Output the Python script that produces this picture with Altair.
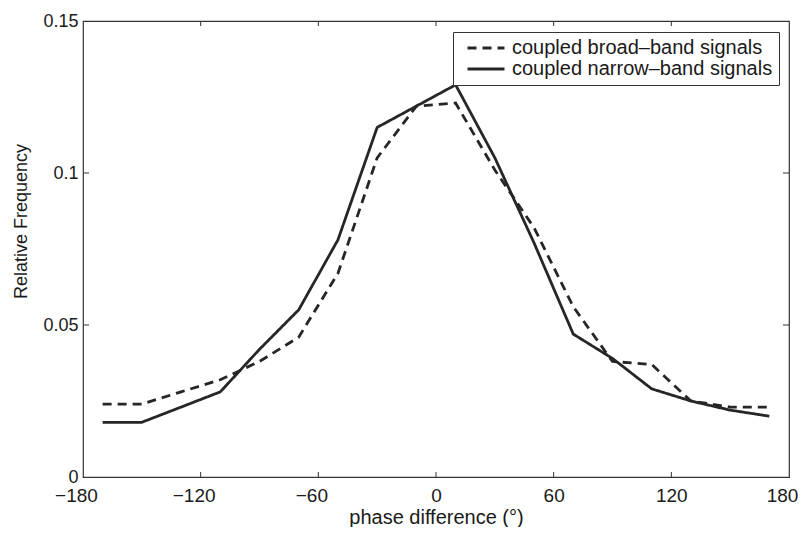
import altair as alt
import pandas as pd

# ---- data ----
phase = [-170, -150, -130, -110, -90, -70, -50, -30, -10, 10, 30, 50, 70, 90, 110, 130, 150, 170]
broad_band = [0.024, 0.024, 0.028, 0.032, 0.038, 0.046, 0.067, 0.105, 0.122, 0.123,
              0.101, 0.082, 0.056, 0.038, 0.037, 0.025, 0.023, 0.023]
narrow_band = [0.018, 0.018, 0.023, 0.028, 0.042, 0.055, 0.078, 0.115, 0.122, 0.129,
               0.105, 0.077, 0.047, 0.039, 0.029, 0.025, 0.022, 0.020]
series_names = ["coupled broad\u2013band signals", "coupled narrow\u2013band signals"]
x_tick_values = [-180, -120, -60, 0, 60, 120, 180]
y_tick_values = [0, 0.05, 0.1, 0.15]
x_inner_ticks = [-120, -60, 0, 60, 120]
y_inner_ticks = [0.05, 0.1]

FONT = "Liberation Sans, Arial, Helvetica, sans-serif"
INK = "#262626"
W, H = 706, 456

rows = []
for name, vals in zip(series_names, [broad_band, narrow_band]):
    for p, v in zip(phase, vals):
        rows.append({"phase": p, "value": v, "series": name})
df = pd.DataFrame(rows)

x_scale = alt.Scale(domain=[-180, 180], nice=False, zero=False)
y_scale = alt.Scale(domain=[0, 0.15], nice=False, zero=False)

x_axis = alt.Axis(values=x_tick_values, format="d", title="phase difference (\u00b0)",
                  domain=False, ticks=False, grid=False, labelFlush=False, labelOverlap=False,
                  labelFontSize=19, labelFont=FONT, labelColor="#1a1a1a", labelPadding=9,
                  labelOffset={"condition": {"test": "datum.value < 0 || datum.value == 180",
                                             "value": -7}, "value": 0},
                  titleFontSize=20, titleFont=FONT, titleFontWeight="normal",
                  titleColor="#1a1a1a", titlePadding=2)
y_axis = alt.Axis(values=y_tick_values, format=".2~f", title="Relative Frequency",
                  domain=False, ticks=False, grid=False, labelFlush=False, labelOverlap=False,
                  labelFontSize=18, labelFont=FONT, labelColor="#1a1a1a", labelPadding=5,
                  titleFontSize=18, titleFont=FONT, titleFontWeight="normal",
                  titleColor="#1a1a1a", titlePadding=12, titleY=200)

legend = alt.Legend(orient="none", legendX=370, legendY=11, title=None,
                    strokeColor="#333", fillColor="white", padding=6,
                    labelFontSize=20, labelFont=FONT, labelColor="#1a1a1a",
                    labelLimit=500, symbolType="M-3.7,0H3.7", symbolSize=100,
                    symbolStrokeWidth=3, symbolOffset=17, labelOffset=16, rowPadding=1)

x_enc = alt.X("phase:Q", scale=x_scale, axis=x_axis)
y_enc = alt.Y("value:Q", scale=y_scale, axis=y_axis)

lines = alt.Chart(df).mark_line(strokeWidth=2.8, strokeJoin="miter").encode(
    x=x_enc,
    y=y_enc,
    color=alt.Color("series:N", scale=alt.Scale(domain=series_names, range=[INK, INK]),
                    legend=legend),
    strokeDash=alt.StrokeDash("series:N", scale=alt.Scale(domain=series_names,
                                                          range=[[9, 6], [1, 0]]),
                              legend=legend),
)

xt = pd.DataFrame({"phase": x_inner_ticks})
yt = pd.DataFrame({"value": y_inner_ticks})

x_ticks_bottom = alt.Chart(xt).mark_rule(color="#333", strokeWidth=1).encode(
    x=x_enc, y=alt.value(H), y2=alt.value(H - 5))
x_ticks_top = alt.Chart(xt).mark_rule(color="#333", strokeWidth=1).encode(
    x=x_enc, y=alt.value(0), y2=alt.value(5))
y_ticks_left = alt.Chart(yt).mark_rule(color="#333", strokeWidth=1).encode(
    y=y_enc, x=alt.value(0), x2=alt.value(6))
y_ticks_right = alt.Chart(yt).mark_rule(color="#333", strokeWidth=1).encode(
    y=y_enc, x=alt.value(W), x2=alt.value(W - 6))

chart = alt.layer(x_ticks_bottom, x_ticks_top, y_ticks_left, y_ticks_right, lines).properties(
    width=W, height=H,
    padding={"left": 75, "top": 13, "right": 9, "bottom": 50},
    autosize=alt.AutoSizeParams(type="none"),
    background="white",
).configure_view(stroke="#333", strokeWidth=1.2)

chart.save("out.html", embed_options={"renderer": "svg", "actions": False})
